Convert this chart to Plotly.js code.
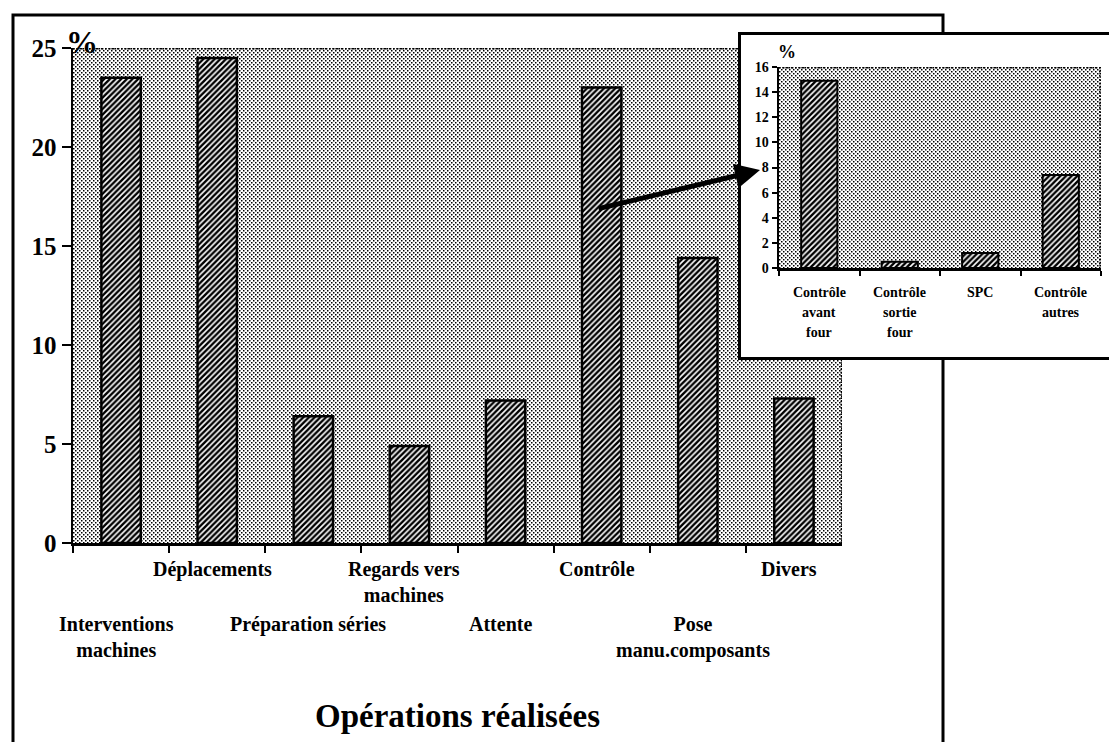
<!DOCTYPE html>
<html>
<head>
<meta charset="utf-8">
<script src="https://cdn.plot.ly/plotly-3.0.1.min.js"></script>
<style>html,body{margin:0;padding:0;background:#fff;}#chart{width:1109px;height:742px;}</style>
</head>
<body>
<div id="chart"></div>
<script>
// ---------- data ----------
const mainCategories = ['Interventions machines', 'Déplacements', 'Préparation séries', 'Regards vers machines', 'Attente', 'Contrôle', 'Pose manu.composants', 'Divers'];
const mainTickLabels = ['Interventions<br>machines', 'Déplacements', 'Préparation séries', 'Regards vers<br>machines', 'Attente', 'Contrôle', 'Pose<br>manu.composants', 'Divers'];
const mainValues = [23.5, 24.5, 6.4, 4.9, 7.2, 23.0, 14.4, 7.3];
const mainYTicks = [0, 5, 10, 15, 20, 25];

const insetCategories = ['Contrôle avant four', 'Contrôle sortie four', 'SPC', 'Contrôle autres'];
const insetTickLabels = ['Contrôle<br>avant<br>four', 'Contrôle<br>sortie<br>four', 'SPC', 'Contrôle<br>autres'];
const insetValues = [14.9, 0.5, 1.2, 7.4];
const insetYTicks = [0, 2, 4, 6, 8, 10, 12, 14, 16];

const xTitle = 'Opérations réalisées';
const unitLabel = '%';

// ---------- layout constants (pixels) ----------
const W = 1109, H = 742;
const FONT = 'Liberation Serif';
const mainBox = {x0: 73, x1: 842, y0: 48, y1: 543};
const insetBox = {x0: 779, x1: 1101, y0: 67, y1: 268};
const insetFrame = {x0: 738, x1: 1116, y0: 32, y1: 360};
const px = v => v / W;
const py = v => 1 - v / H;

function dotPattern(id) {
  return '<pattern id="' + id + '" width="4" height="4" patternUnits="userSpaceOnUse">' +
    '<rect width="4" height="4" fill="#ffffff"/>' +
    '<rect x="0" y="0" width="1.5" height="1.5" fill="#000"/>' +
    '<rect x="2" y="2" width="1.5" height="1.5" fill="#000"/></pattern>';
}
function dottedArea(w, h) {
  return '<svg xmlns="http://www.w3.org/2000/svg" width="' + w + '" height="' + h + '" viewBox="0 0 ' + w + ' ' + h + '">' +
    '<defs>' + dotPattern('d') + '</defs>' +
    '<rect width="' + w + '" height="' + h + '" fill="url(#d)"/>' +
    '<path d="M0,0.8 H' + (w - 0.8) + ' V' + h + '" fill="none" stroke="#000" stroke-width="1.6" stroke-dasharray="1.6,1.6"/>' +
    '</svg>';
}
function whiteBox(w, h) {
  return '<svg xmlns="http://www.w3.org/2000/svg" width="' + w + '" height="' + h + '" viewBox="0 0 ' + w + ' ' + h + '">' +
    '<rect x="1.5" y="1.5" width="' + (w - 3) + '" height="' + (h - 3) + '" fill="#fff" stroke="#000" stroke-width="3"/></svg>';
}
function uri(svg) { return 'data:image/svg+xml;charset=utf-8,' + encodeURIComponent(svg); }
function img(svg, b) {
  return {source: uri(svg), xref: 'paper', yref: 'paper', x: px(b.x0), y: py(b.y0),
    sizex: (b.x1 - b.x0) / W, sizey: (b.y1 - b.y0) / H, xanchor: 'left', yanchor: 'top',
    sizing: 'stretch', layer: 'below'};
}

const hatch = {shape: '/', fgcolor: '#000', bgcolor: '#fff', size: 4, solidity: 0.6};

const traces = [
  {type: 'bar', x: mainCategories, y: mainValues, width: 0.41, xaxis: 'x', yaxis: 'y',
   marker: {color: '#fff', pattern: hatch, line: {color: '#000', width: 2.5}}, hoverinfo: 'x+y'},
  {type: 'bar', x: insetCategories, y: insetValues, width: 0.45, xaxis: 'x2', yaxis: 'y2',
   marker: {color: '#fff', pattern: hatch, line: {color: '#000', width: 2}}, hoverinfo: 'x+y'}
];

const MAIN_LABEL_SIZE = 20;
const annotations = [];
mainTickLabels.forEach((lab, i) => {
  const n = lab.split('<br>').length;
  const first = (i % 2 === 0) ? 81 : 26;          // staggered rows
  const center = first + (n - 1) * MAIN_LABEL_SIZE * 1.3 / 2;
  annotations.push({xref: 'x', yref: 'y', x: mainCategories[i], y: 0,
    text: '<b>' + lab.split('<br>').join('</b><br><b>') + '</b>', showarrow: false,
    yanchor: 'middle', xanchor: 'center', align: 'center', yshift: -center, xshift: -5,
    font: {family: FONT, size: MAIN_LABEL_SIZE, color: '#000'}});
});
insetTickLabels.forEach((lab, i) => {
  lab.split('<br>').forEach((ln, k) => {
    annotations.push({xref: 'x2', yref: 'y2', x: insetCategories[i], y: 0, text: '<b>' + ln + '</b>', showarrow: false,
      yanchor: 'middle', xanchor: 'center', yshift: -(24 + 20 * k),
      font: {family: FONT, size: 14, color: '#000'}});
  });
});
annotations.push({xref: 'paper', yref: 'paper', x: px(457), y: py(716), text: '<b>' + xTitle + '</b>', showarrow: false,
  xanchor: 'center', yanchor: 'middle', font: {family: FONT, size: 33, color: '#000'}});
annotations.push({xref: 'paper', yref: 'paper', x: px(82), y: py(42), text: '<b>' + unitLabel + '</b>', showarrow: false,
  xanchor: 'center', yanchor: 'middle', font: {family: FONT, size: 32, color: '#000'}});
annotations.push({xref: 'paper', yref: 'paper', x: px(787), y: py(52), text: '<b>' + unitLabel + '</b>', showarrow: false,
  xanchor: 'center', yanchor: 'middle', font: {family: FONT, size: 18, color: '#000'}});
annotations.push({xref: 'paper', yref: 'paper', x: px(760), y: py(170), ax: 597 - 760, ay: 209 - 170,
  text: '', showarrow: true, arrowhead: 2, arrowsize: 1, arrowwidth: 5, arrowcolor: '#000', standoff: 0});

const axBase = {showgrid: false, zeroline: false, fixedrange: true, tickcolor: '#000', linecolor: '#000'};

const layout = {
  width: W, height: H,
  margin: {l: 0, r: 0, t: 0, b: 0},
  paper_bgcolor: '#fff', plot_bgcolor: 'rgba(0,0,0,0)',
  showlegend: false, bargap: 0,
  font: {family: FONT, color: '#000'},
  xaxis: Object.assign({}, axBase, {domain: [px(mainBox.x0), px(mainBox.x1)], anchor: 'y', type: 'category', range: [-0.5, 7.5],
    tickson: 'boundaries', ticks: 'outside', ticklen: 7, tickwidth: 2,
    showticklabels: false, showline: true, linewidth: 2.5}),
  yaxis: Object.assign({}, axBase, {domain: [py(mainBox.y1), py(mainBox.y0)], anchor: 'x', range: [0, 25], tickvals: mainYTicks,
    ticks: 'outside', ticklen: 9, tickwidth: 2,
    tickfont: {family: FONT, size: 25, color: '#000', weight: 'bold'},
    showline: true, linewidth: 2.5}),
  yaxis3: Object.assign({}, axBase, {overlaying: 'y', anchor: 'x', side: 'left', range: [0, 25], tickvals: mainYTicks,
    ticks: 'inside', ticklen: 7, tickwidth: 2, showticklabels: false, showline: false}),
  xaxis2: Object.assign({}, axBase, {domain: [px(insetBox.x0), px(insetBox.x1)], anchor: 'y2', type: 'category', range: [-0.5, 3.5],
    tickson: 'boundaries', ticks: 'outside', ticklen: 5, tickwidth: 2,
    showticklabels: false, showline: true, linewidth: 2.5}),
  yaxis2: Object.assign({}, axBase, {domain: [py(insetBox.y1), py(insetBox.y0)], anchor: 'x2', range: [0, 16], tickvals: insetYTicks,
    ticks: 'outside', ticklen: 5, tickwidth: 2,
    tickfont: {family: FONT, size: 14, color: '#000', weight: 'bold'},
    showline: true, linewidth: 2.5}),
  yaxis4: Object.assign({}, axBase, {overlaying: 'y2', anchor: 'x2', side: 'left', range: [0, 16], tickvals: insetYTicks,
    ticks: 'inside', ticklen: 4, tickwidth: 2, showticklabels: false, showline: false}),
  images: [
    img(dottedArea(mainBox.x1 - mainBox.x0, mainBox.y1 - mainBox.y0), mainBox),
    img(whiteBox(insetFrame.x1 - insetFrame.x0, insetFrame.y1 - insetFrame.y0), insetFrame),
    img(dottedArea(insetBox.x1 - insetBox.x0, insetBox.y1 - insetBox.y0), insetBox)
  ],
  shapes: [
    {type: 'path', xref: 'paper', yref: 'paper', layer: 'below',
     path: 'M' + px(13) + ',' + py(750) + ' L' + px(13) + ',' + py(15) + ' L' + px(943) + ',' + py(15) +
           ' L' + px(943) + ',' + py(32) + ' M' + px(943) + ',' + py(360) + ' L' + px(943) + ',' + py(750),
     line: {color: '#000', width: 3}}
  ],
  annotations: annotations
};

Plotly.newPlot('chart', traces, layout, {displayModeBar: false, staticPlot: true});
</script>
</body>
</html>
